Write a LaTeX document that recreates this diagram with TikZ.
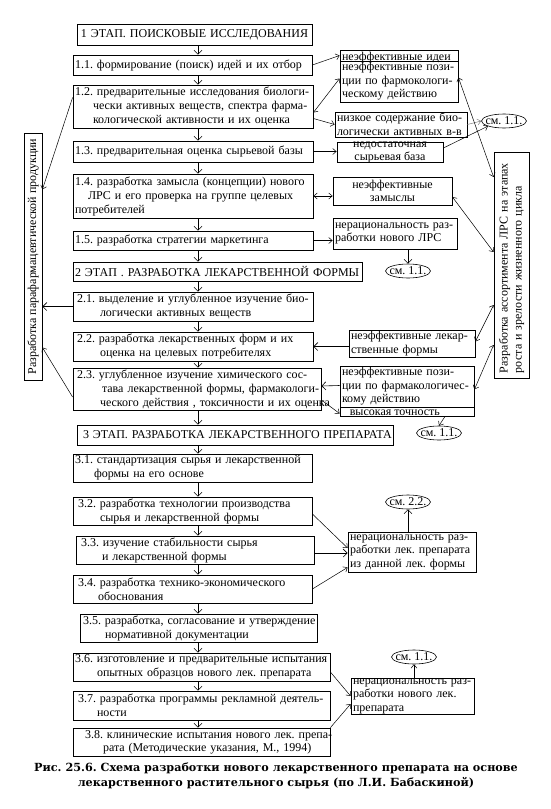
\documentclass[tikz,border=0pt]{standalone}
\usepackage{fontspec}
\setmainfont{Liberation Serif}
\newfontfamily\capfont{DejaVu Serif}
\usetikzlibrary{arrows.meta,calc,shapes.geometric}

\tikzset{
  box/.style={draw, line width=0.8pt, inner xsep=2pt, inner ysep=0pt, align=left,
    font=\fontsize{12}{14}\selectfont},
  note/.style={box, font=\fontsize{12}{13.5}\selectfont},
  seeref/.style={draw, ellipse, line width=0.6pt, inner sep=-3pt, minimum width=45pt,
    minimum height=14pt, font=\fontsize{12}{12}\selectfont},
  darr/.style={line width=0.6pt, -{Straight Barb[length=4pt,width=8pt]}},
  arr/.style={line width=0.5pt, -{Straight Barb[length=3.5pt,width=6pt]}},
  arr2/.style={line width=0.5pt, {Straight Barb[length=3.5pt,width=6pt]}-{Straight Barb[length=3.5pt,width=6pt]}}
}

\begin{document}
\frenchspacing
\begin{tikzpicture}[x=1pt, y=-1pt]
  \useasboundingbox (0,0) rectangle (550,809);
  \coordinate (ax) at (198,0);

  % stage 1
  \node[box, text width=231pt, minimum height=21pt, align=center] (t1) at (194.5,34.5) {1 ЭТАП. ПОИСКОВЫЕ ИССЛЕДОВАНИЯ};
  \node[box, text width=235pt, minimum height=20pt] (s11) at (192.5,65) {\mbox{1.1. формирование (поиск) идей и их отбор}};
  \node[box, text width=236pt, minimum height=43pt] (s12) at (193,106.5) {\mbox{1.2. предварительные исследования биологи-}\\\hspace*{18pt}\mbox{чески активных веществ, спектра фарма-}\\\hspace*{18pt}\mbox{кологической активности и их оценка}};
  \node[box, text width=236pt, minimum height=21pt] (s13) at (193,151.5) {\mbox{1.3. предварительная оценка сырьевой базы}};
  \node[box, text width=236pt, minimum height=44pt] (s14) at (193,196) {\mbox{1.4. разработка замысла (концепции) нового}\\\hspace*{13pt}\mbox{ЛРС и его проверка на группе целевых}\\потребителей};
  \node[box, text width=236pt, minimum height=19pt] (s15) at (193,240.5) {\mbox{1.5. разработка стратегии маркетинга}};

  % stage 2
  \node[box, text width=285pt, minimum height=19pt] (t2) at (217.5,271.5) {\mbox{2 ЭТАП . РАЗРАБОТКА ЛЕКАРСТВЕННОЙ ФОРМЫ}};
  \node[box, text width=236pt, minimum height=29pt] (s21) at (193,306.5) {\hspace*{2pt}\mbox{2.1. выделение и углубленное изучение био-}\\\hspace*{25pt}\mbox{логически активных веществ}};
  \node[box, text width=236pt, minimum height=29pt] (s22) at (193,346.5) {\hspace*{2pt}\mbox{2.2. разработка лекарственных форм и их}\\\hspace*{25pt}\mbox{оценка на целевых потребителях}};
  \node[box, text width=244pt, minimum height=42pt] (s23) at (197,389) {\hspace*{2pt}\mbox{2.3. углубленное изучение химического сос-}\\\hspace*{27pt}\mbox{тава лекарственной формы, фармакологи-}\\\hspace*{25pt}\mbox{ческого действия , токсичности и их оценка}};

  % stage 3
  \node[box, text width=312pt, minimum height=20pt] (t3) at (235,435) {\hspace*{4pt}\mbox{3 ЭТАП. РАЗРАБОТКА ЛЕКАРСТВЕННОГО ПРЕПАРАТА}};
  \node[box, text width=235pt, minimum height=28pt] (s31) at (192.5,468) {\mbox{3.1. стандартизация сырья и лекарственной}\\\hspace*{19pt}\mbox{формы на его основе}};
  \node[box, text width=235pt, minimum height=28pt] (s32) at (192.5,511) {\hspace*{3pt}\mbox{3.2. разработка технологии производства}\\\hspace*{25pt}\mbox{сырья и лекарственной формы}};
  \node[box, text width=234pt, minimum height=28pt] (s33) at (195,550) {\hspace*{3pt}\mbox{3.3. изучение стабильности сырья}\\\hspace*{24pt}\mbox{и лекарственной формы}};
  \node[box, text width=235pt, minimum height=28pt] (s34) at (192.5,589) {\hspace*{3pt}\mbox{3.4. разработка технико-экономического}\\\hspace*{23pt}обоснования};
  \node[box, text width=233pt, minimum height=28pt] (s35) at (198.5,628) {\hspace*{1pt}\mbox{3.5. разработка, согласование и утверждение}\\\hspace*{23pt}\mbox{нормативной документации}};
  \node[box, text width=253pt, minimum height=28pt] (s36) at (201.5,667) {\mbox{3.6. изготовление и предварительные испытания}\\\hspace*{22pt}\mbox{опытных образцов нового лек. препарата}};
  \node[box, text width=253pt, minimum height=29pt] (s37) at (201.5,705.5) {\hspace*{3pt}\mbox{3.7. разработка программы рекламной деятель-}\\\hspace*{22pt}ности};
  \node[box, text width=253pt, minimum height=28pt, font=\fontsize{12}{13}\selectfont] (s38) at (201.5,742) {\hspace*{10pt}\mbox{3.8. клинические испытания нового лек. препа-}\\\hspace*{28pt}\mbox{рата (Методические указания, М., 1994)}};

  % side boxes
  \node[draw, line width=0.8pt, rotate=90, minimum width=247pt, minimum height=18pt, inner sep=0pt,
    font=\fontsize{12}{14}\selectfont] (lb) at (33,256.5) {Разработка парафармацевтической продукции};
  \node[box, rotate=90, text width=222pt, minimum height=35pt] (rb) at (511.5,265) {\hspace*{3pt}\mbox{Разработка ассортимента ЛРС на этапах}\\\hspace*{3pt}\mbox{роста и зрелости жизненного цикла}};

  % outcomes
  \node[note, text width=114pt, text height=9pt, text depth=0pt, inner ysep=1pt] (idea) at (399,55.5) {\mbox{неэффективные идеи}};
  \node[note, text width=114pt, minimum height=41pt] (pos1) at (399,81.5) {\mbox{неэффективные пози-}\\\mbox{ции по фармокологи-}\\\mbox{ческому действию}};
  \node[note, text width=128pt, minimum height=25pt] (low) at (401,124.5) {\mbox{низкое содержание био-}\\\mbox{логически активных в-в}};
  \node[note, minimum width=106pt, minimum height=20pt] (lack) at (390,152) {};
  \node[font=\fontsize{12}{13}\selectfont, align=center, inner sep=0pt] (lackt) at (390,152) {недостаточная\\сырьевая база};
  \node[note, text width=115pt, minimum height=28pt, align=center] (idea2) at (392.5,191) {неэффективные\\замыслы};
  \node[note, text width=120pt, minimum height=31pt] (irr1) at (395,233.5) {\mbox{нерациональность раз-}\\\mbox{работки нового ЛРС}};
  \node[note, text width=122pt, minimum height=27pt] (form) at (412,343.5) {\mbox{неэффективные лекар-}\\\mbox{ственные формы}};
  \node[note, text width=130pt, minimum height=41pt] (pos2) at (407,386.5) {\mbox{неэффективные пози-}\\\mbox{ции по фармакологичес-}\\\mbox{кому действию}};
  \node[note, minimum width=134pt, minimum height=9pt] (acc) at (407,411.5) {};
  \begin{scope}
    \clip (acc.north west) rectangle (acc.south east);
    \node[anchor=north west, inner sep=0pt, font=\fontsize{12}{13}\selectfont] (acct) at ($(acc.north west)+(10,3.5)$) {высокая точность};
  \end{scope}
  \node[note, text width=124pt, minimum height=40pt] (irr2) at (412,552) {\mbox{нерациональность раз-}\\\mbox{работки лек. препарата}\\\mbox{из данной лек. формы}};
  \node[note, text width=119pt, minimum height=36pt] (irr3) at (412.5,696) {\mbox{нерациональность раз-}\\\mbox{работки нового лек.}\\препарата};

  % references
  \node[seeref] (see1) at (504,121) {см. 1.1.};
  \node[seeref] (see2) at (408,271) {см. 1.1.};
  \node[seeref] (see3) at (439,433) {см. 1.1.};
  \node[seeref] (see4) at (408,502) {см. 2.2.};
  \node[seeref] (see5) at (414,657) {см. 1.1.};

  % main flow
  \draw[darr] (t1.south -| ax) -- (s11.north -| ax);
  \draw[darr] (s11.south -| ax) -- (s12.north -| ax);
  \draw[darr] (s12.south -| ax) -- (s13.north -| ax);
  \draw[darr] (s13.south -| ax) -- (s14.north -| ax);
  \draw[darr] (s14.south -| ax) -- (s15.north -| ax);
  \draw[darr] (s15.south -| ax) -- (t2.north -| ax);
  \draw[darr] (t2.south -| ax) -- (s21.north -| ax);
  \draw[darr] (s21.south -| ax) -- (s22.north -| ax);
  \draw[darr] (s22.south -| ax) -- (s23.north -| ax);
  \draw[darr] (s23.south -| ax) -- (t3.north -| ax);
  \draw[darr] (t3.south -| ax) -- (s31.north -| ax);
  \draw[darr] (s31.south -| ax) -- (s32.north -| ax);
  \draw[darr] (s32.south -| ax) -- (s33.north -| ax);
  \draw[darr] (s33.south -| ax) -- (s34.north -| ax);
  \draw[darr] (s34.south -| ax) -- (s35.north -| ax);
  \draw[darr] (s35.south -| ax) -- (s36.north -| ax);
  \draw[darr] (s36.south -| ax) -- (s37.north -| ax);
  \draw[darr] (s37.south -| ax) -- (s38.north -| ax);

  % to the right
  \draw[arr] (s11.east) -- (idea.west);
  \draw[arr2] ($(s12.east)+(0,6)$) -- ($(pos1.west)+(0,-3)$);
  \draw[arr] ($(s12.east)+(0,12)$) -- (low.west);
  \draw[arr, gray] (low.east) -- (see1.west);
  \draw[arr] ($(lack.east)+(0,-4)$) -- (see1.south west);
  \draw[arr] (s13.east) -- (s13.east -| lack.west);
  \draw[arr2] (s14.east) -- (s14.east -| idea2.west);
  \draw[arr] (s15.east) -- (s15.east -| irr1.west);
  \draw[darr] (irr1.south -| see2.north) -- (see2.north);
  \draw[arr2] ($(pos1.east)+(0,-4)$) -- ($(rb.north)+(0,-88)$);
  \draw[arr2] ($(idea2.east)+(0,6)$) -- ($(rb.north)+(0,-13)$);
  \draw[arr2] ($(form.east)+(0,-2)$) -- ($(rb.north)+(0,40)$);
  \draw[arr2] ($(pos2.east)+(0,3)$) -- ($(rb.north)+(0,80)$);
  \draw[darr, {Straight Barb[length=4pt,width=8pt]}-] (s22.east) -- (s22.east -| form.west);
  \draw[darr, {Straight Barb[length=4pt,width=8pt]}-] ($(s23.east)+(0,-3)$) -- ($(pos2.west)+(0,-1)$);
  \draw[arr] ($(s23.east)+(0,11)$) -- ($(acc.west)+(0,2)$);
  \draw[arr] ($(acc.south)+(38,0)$) -- (see3.north);
  \draw[arr] ($(s32.east)+(0,3)$) -- ($(irr2.west)+(0,-4)$);
  \draw[darr] ($(s33.east)+(0,3)$) -- ($(s33.east -| irr2.west)+(0,3)$);
  \draw[arr] (s34.east) -- ($(irr2.south west)+(0,-5)$);
  \draw[darr] (irr2.north -| see4.south) -- (see4.south);
  \draw[arr] ($(s36.east)+(0,5)$) -- (irr3.west);
  \draw[arr] (s38.north east) -- ($(irr3.west)+(0,8)$);
  \draw[arr] (irr3.north -| see5.south) -- (see5.south);

  % to the left
  \draw[arr] ($(s12.west)+(0,-9)$) -- ($(lb.south)+(0,-67)$);
  \draw[darr] (s21.west) -- (s21.west -| lb.south);
  \draw[arr] ($(s23.west)+(0,8)$) -- ($(lb.south)+(0,91)$);

  % caption
  \node[font=\capfont\bfseries\fontsize{11.2}{15.5}\selectfont, align=center] (cap) at (276,776) {Рис. 25.6. Схема разработки нового лекарственного препарата на основе\\лекарственного растительного сырья (по Л.И. Бабаскиной)};
\end{tikzpicture}
\end{document}
